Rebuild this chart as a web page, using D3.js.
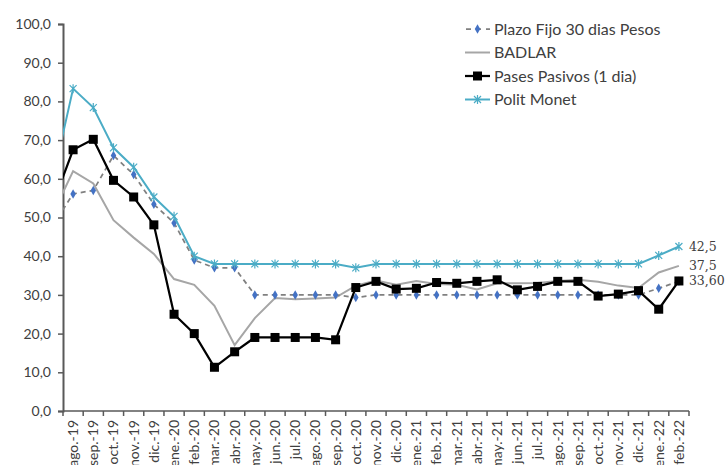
<!DOCTYPE html>
<html>
<head>
<meta charset="utf-8">
<script src="https://cdn.jsdelivr.net/npm/d3@7"></script>
<style>
  html, body { margin: 0; padding: 0; background: #fff; }
  svg { display: block; }
  .tick text { font-family: Lato, "Open Sans", sans-serif; fill: #404040; }
</style>
</head>
<body>
<svg id="chart" width="728" height="465"></svg>
<script>
// Months; the first one (jul.-19) only feeds the line entering from the left edge.
const months = ["jul.-19","ago.-19","sep.-19","oct.-19","nov.-19","dic.-19",
  "ene.-20","feb.-20","mar.-20","abr.-20","may.-20","jun.-20","jul.-20","ago.-20","sep.-20","oct.-20","nov.-20","dic.-20",
  "ene.-21","feb.-21","mar.-21","abr.-21","may.-21","jun.-21","jul.-21","ago.-21","sep.-21","oct.-21","nov.-21","dic.-21",
  "ene.-22","feb.-22"];

const plazoFijo = [48.0, 56.1, 57.0, 66.0, 61.1, 53.4,
  48.6, 39.0, 37.0, 37.0, 30.0, 30.0, 30.0, 30.0, 30.0, 29.3, 30.0, 30.0,
  30.0, 30.0, 30.0, 30.0, 30.0, 30.0, 30.0, 30.0, 30.0, 30.0, 30.0, 30.0,
  31.7, 33.5];

const badlar = [51.0, 62.0, 58.8, 49.3, 44.8, 40.6,
  34.1, 32.6, 27.2, 17.0, 24.0, 29.2, 28.9, 29.1, 29.3, 32.4, 33.7, 32.6,
  33.6, 32.8, 32.6, 31.4, 33.0, 33.0, 33.1, 33.6, 33.9, 33.4, 32.4, 31.8,
  35.8, 37.5];

const pasesPasivos = [53.5, 67.5, 70.2, 59.6, 55.3, 48.1,
  25.0, 20.0, 11.3, 15.3, 19.0, 19.0, 19.0, 19.0, 18.4, 31.9, 33.5, 31.5,
  31.7, 33.2, 33.0, 33.5, 33.9, 31.3, 32.2, 33.5, 33.5, 29.7, 30.2, 31.1,
  26.3, 33.6];

const politMonet = [60.0, 83.3, 78.4, 68.0, 63.0, 55.3,
  50.3, 40.0, 38.0, 38.0, 38.0, 38.0, 38.0, 38.0, 38.0, 37.0, 38.0, 38.0,
  38.0, 38.0, 38.0, 38.0, 38.0, 38.0, 38.0, 38.0, 38.0, 38.0, 38.0, 38.0,
  40.2, 42.5];

const yTicks = [0, 10, 20, 30, 40, 50, 60, 70, 80, 90, 100];
const endLabels = ["42,5", "37,5", "33,60"];

const fmt = v => d3.format(".1f")(v).replace(".", ",");

const svg = d3.select("#chart");
const plotLeft = 63, plotRight = 689, plotTop = 24, plotBottom = 411;

const visible = months.slice(1);
const step = (plotRight - plotLeft) / visible.length;
const x = d3.scaleBand().domain(months).range([plotLeft - step, plotRight]);
const xc = m => x(m) + x.bandwidth() / 2;
const xVis = d3.scaleBand().domain(visible).range([plotLeft, plotRight]);
const y = d3.scaleLinear().domain([0, 100]).range([plotBottom, plotTop]);

svg.append("defs").append("clipPath").attr("id", "plot")
  .append("rect").attr("x", plotLeft).attr("y", 0).attr("width", 728 - plotLeft).attr("height", 465);

const axisColor = "#595959";

// Y axis
const yAxis = svg.append("g").attr("transform", `translate(${plotLeft},0)`)
  .call(d3.axisLeft(y).tickValues(yTicks).tickFormat(fmt).tickSize(5).tickPadding(7));
yAxis.select(".domain").attr("stroke", axisColor).attr("stroke-width", 2);
yAxis.selectAll(".tick line").attr("stroke", axisColor).attr("stroke-width", 1.5);
yAxis.selectAll(".tick text").style("font-size", "14px");

// X axis: labels at month centres, ticks at month boundaries
const xAxis = svg.append("g").attr("transform", `translate(0,${plotBottom})`)
  .call(d3.axisBottom(xVis).tickSize(0).tickPadding(0));
xAxis.select(".domain").remove();
xAxis.selectAll(".tick text")
  .style("font-size", "14px")
  .attr("text-anchor", "end")
  .attr("transform", "translate(0,9) rotate(-90)")
  .attr("dy", "0.35em")
  .attr("y", 0).attr("x", 0);
svg.append("line").attr("x1", plotLeft).attr("x2", plotRight).attr("y1", plotBottom).attr("y2", plotBottom)
  .attr("stroke", axisColor).attr("stroke-width", 1.5);
svg.append("g").selectAll("line").data(visible.concat([null])).join("line")
  .attr("x1", (d, i) => plotLeft + i * step).attr("x2", (d, i) => plotLeft + i * step)
  .attr("y1", plotBottom).attr("y2", plotBottom + 5)
  .attr("stroke", axisColor).attr("stroke-width", 1.5);

const plot = svg.append("g").attr("clip-path", "url(#plot)");
const line = vals => d3.line().x((d, i) => xc(months[i])).y(d => y(d))(vals);

const blue = "#4472c4", aqua = "#4bacc6";

// BADLAR
plot.append("path").attr("d", line(badlar)).attr("fill", "none")
  .attr("stroke", "#a6a6a6").attr("stroke-width", 2);

// Plazo fijo
plot.append("path").attr("d", line(plazoFijo)).attr("fill", "none")
  .attr("stroke", "#808080").attr("stroke-width", 1.75).attr("stroke-dasharray", "5,4");
plot.append("g").selectAll("path").data(plazoFijo).join("path")
  .attr("d", d3.symbol(d3.symbolDiamond, 26))
  .attr("transform", (d, i) => `translate(${xc(months[i])},${y(d)})`)
  .attr("fill", blue);

// Pases pasivos
plot.append("path").attr("d", line(pasesPasivos)).attr("fill", "none")
  .attr("stroke", "#000").attr("stroke-width", 2.25);
plot.append("g").selectAll("rect").data(pasesPasivos).join("rect")
  .attr("x", (d, i) => xc(months[i]) - 4.5).attr("y", d => y(d) - 4.5)
  .attr("width", 9).attr("height", 9).attr("fill", "#000");

// Politica monetaria
const star = "M-3.5,-3.5L3.5,3.5M-3.5,3.5L3.5,-3.5M0,-4.5L0,4.5";
plot.append("path").attr("d", line(politMonet)).attr("fill", "none")
  .attr("stroke", aqua).attr("stroke-width", 2);
plot.append("g").selectAll("path").data(politMonet).join("path")
  .attr("d", star)
  .attr("transform", (d, i) => `translate(${xc(months[i])},${y(d)})`)
  .attr("stroke", aqua).attr("stroke-width", 1.2).attr("fill", "none");

// End-of-series value labels
const lastIdx = months.length - 1;
const ends = [politMonet[lastIdx], badlar[lastIdx], pasesPasivos[lastIdx]];
svg.append("g").selectAll("text").data(ends).join("text")
  .attr("x", xc(months[lastIdx]) + 10)
  .attr("y", d => y(d))
  .attr("dy", "0.35em")
  .attr("font-family", "'DejaVu Serif', serif")
  .attr("font-size", 12.5)
  .attr("fill", "#404040")
  .text((d, i) => endLabels[i]);

// Legend
const legend = [
  { name: "Plazo Fijo 30 dias Pesos", kind: "plazo" },
  { name: "BADLAR", kind: "badlar" },
  { name: "Pases Pasivos (1 dia)", kind: "pases" },
  { name: "Polit Monet", kind: "polit" }
];
const lg = svg.append("g").attr("transform", "translate(465,29)");
const rows = lg.selectAll("g").data(legend).join("g")
  .attr("transform", (d, i) => `translate(0,${i * 23.5})`);
rows.each(function(d) {
  const g = d3.select(this);
  if (d.kind === "plazo") {
    g.append("line").attr("x1", 0).attr("x2", 25).attr("stroke", "#808080")
      .attr("stroke-width", 1.75).attr("stroke-dasharray", "5,5").attr("stroke-dashoffset", -1);
    g.append("path").attr("d", d3.symbol(d3.symbolDiamond, 26)).attr("transform", "translate(12.5,0)").attr("fill", blue);
  } else if (d.kind === "badlar") {
    g.append("line").attr("x1", 0).attr("x2", 25).attr("stroke", "#a6a6a6").attr("stroke-width", 2);
  } else if (d.kind === "pases") {
    g.append("line").attr("x1", 0).attr("x2", 25).attr("stroke", "#000").attr("stroke-width", 2.25);
    g.append("rect").attr("x", 8).attr("y", -4.5).attr("width", 9).attr("height", 9).attr("fill", "#000");
  } else {
    g.append("line").attr("x1", 0).attr("x2", 25).attr("stroke", aqua).attr("stroke-width", 2);
    g.append("path").attr("d", star).attr("transform", "translate(12.5,0)")
      .attr("stroke", aqua).attr("stroke-width", 1.2).attr("fill", "none");
  }
  g.append("text").attr("x", 29).attr("dy", "0.35em")
    .attr("font-family", "Lato, 'Open Sans', sans-serif").attr("font-size", 16)
    .attr("fill", "#404040").text(d.name);
});
</script>
</body>
</html>
